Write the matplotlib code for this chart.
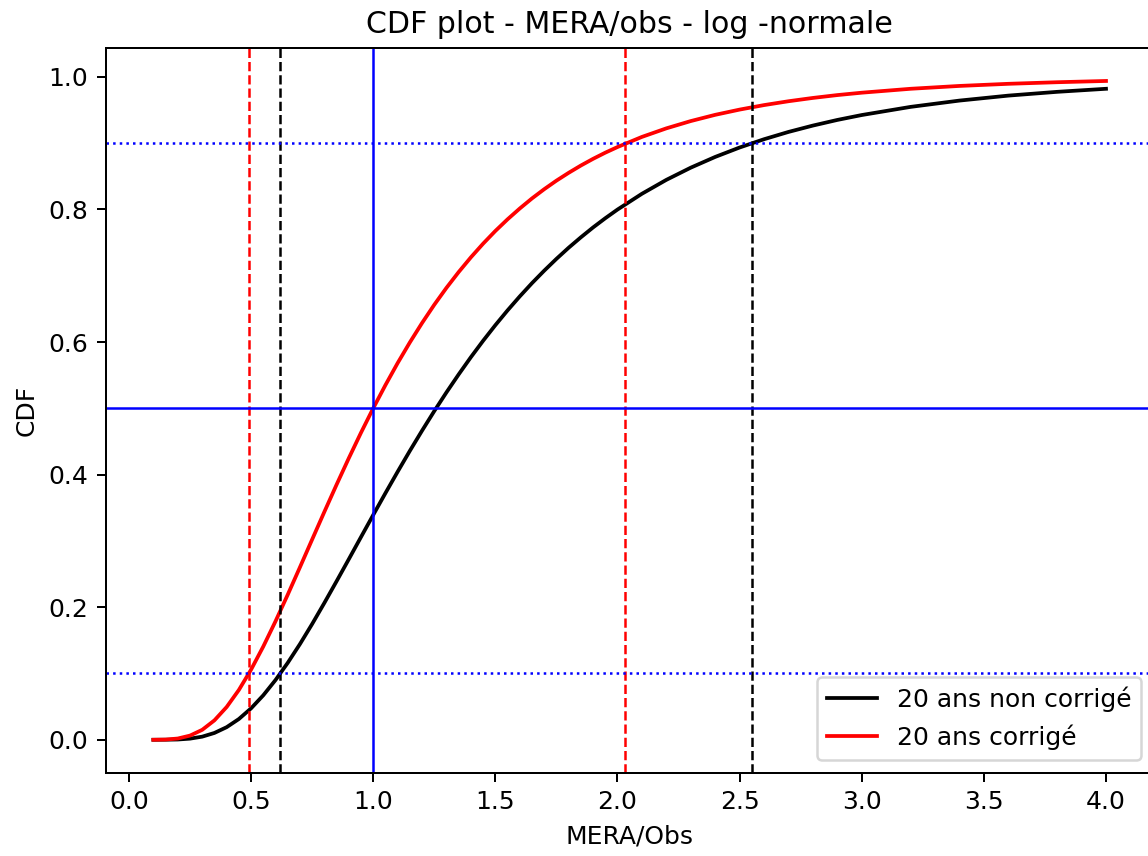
import numpy as np
import matplotlib
matplotlib.use("Agg")
import matplotlib.pyplot as plt

# values (MERA/Obs ratio vs CDF)
x = [0.1, 0.15, 0.2, 0.25, 0.3, 0.35, 0.4, 0.45, 0.5, 0.55, 0.6, 0.65, 0.7,
     0.75, 0.8, 0.85, 0.9, 0.95, 1.0, 1.05, 1.1, 1.15, 1.2, 1.25, 1.3, 1.35,
     1.4, 1.45, 1.5, 1.55, 1.6, 1.65, 1.7, 1.75, 1.8, 1.85, 1.9, 1.95,
     2.0, 2.1, 2.2, 2.3, 2.4, 2.5, 2.6, 2.7, 2.8, 2.9, 3.0, 3.2,
     3.4, 3.6, 3.8, 4.0]
cdf_non_corrige = [0.0, 0.0001, 0.0004, 0.0017, 0.0047, 0.0103, 0.019, 0.0313,
                   0.0474, 0.0671, 0.0901, 0.116, 0.1443, 0.1746, 0.2064,
                   0.2391, 0.2723, 0.3058, 0.3391, 0.372, 0.4043, 0.4358,
                   0.4663, 0.4958, 0.5241, 0.5512, 0.5772, 0.6019, 0.6254,
                   0.6477, 0.6688, 0.6888, 0.7076, 0.7254, 0.7422, 0.7579,
                   0.7728, 0.7867, 0.7998,
                   0.8236, 0.8446, 0.863, 0.8792, 0.8934, 0.9059, 0.9169,
                   0.9265, 0.935, 0.9424, 0.9547, 0.9642, 0.9717, 0.9774,
                   0.982]
cdf_corrige = [0.0, 0.0003, 0.0019, 0.0063, 0.015, 0.0293, 0.0494, 0.0751,
               0.1058, 0.1407, 0.1787, 0.2188, 0.2602, 0.3021, 0.3438, 0.3848,
               0.4247, 0.4632, 0.5, 0.535, 0.5682, 0.5994, 0.6287, 0.6562,
               0.6818, 0.7056, 0.7278, 0.7484, 0.7675, 0.7851, 0.8014, 0.8166,
               0.8305, 0.8434, 0.8552, 0.8662, 0.8763, 0.8856, 0.8941,
               0.9094, 0.9223, 0.9333, 0.9427, 0.9506, 0.9574, 0.9632, 0.9682,
               0.9725, 0.9761, 0.982, 0.9863, 0.9895, 0.9919, 0.9938]

# quantile markers (10% / 90%)
q_non_corrige = [0.62, 2.55]
q_corrige = [0.49, 2.03]
levels_dotted = [0.1, 0.9]

dpi = 180
fig = plt.figure(figsize=(1148 / dpi, 856 / dpi), dpi=dpi)
ax = fig.add_axes([0.0921, 0.0973, 0.9128, 0.8466])

ax.plot(x, cdf_non_corrige, color='black', label='20 ans non corrigé')
ax.plot(x, cdf_corrige, color='red', label='20 ans corrigé')

for q in q_corrige:
    ax.axvline(q, color='red', linestyle='--', linewidth=1)
for q in q_non_corrige:
    ax.axvline(q, color='black', linestyle='--', linewidth=1)
ax.axvline(1.0, color='blue', linewidth=1)
ax.axhline(0.5, color='blue', linewidth=1)
for lv in levels_dotted:
    ax.axhline(lv, color='blue', linestyle=':', linewidth=1)

ax.set_xticks(np.arange(0, 4.01, 0.5))
ax.set_xlabel('MERA/Obs')
ax.set_ylabel('CDF')
ax.set_title('CDF plot - MERA/obs - log -normale')
ax.legend(loc='lower right')

fig.savefig('out.png', dpi=dpi)
